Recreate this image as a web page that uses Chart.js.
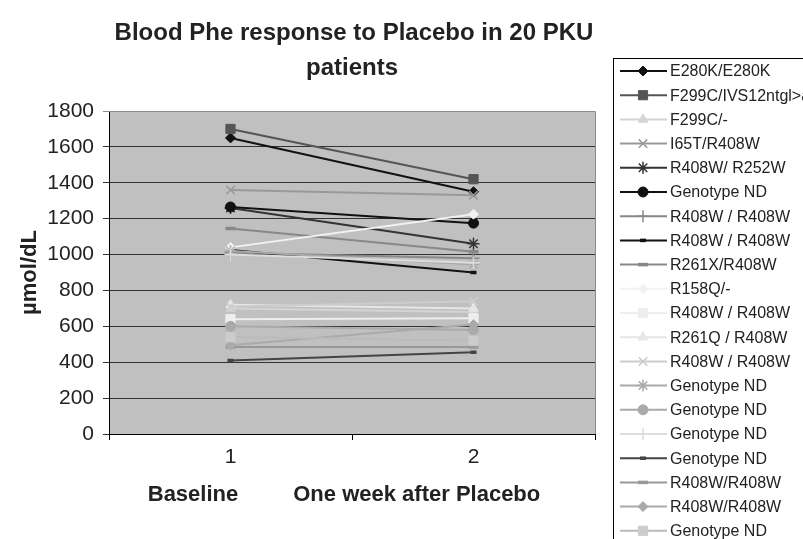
<!DOCTYPE html>
<html>
<head>
<meta charset="utf-8">
<script src="https://cdn.jsdelivr.net/npm/chart.js@4/dist/chart.umd.min.js"></script>
<style>
  html, body { margin: 0; padding: 0; background: #fff; }
  #wrap { width: 803px; height: 539px; position: relative; overflow: hidden; }
  canvas { display: block; }
</style>
</head>
<body>
<div id="wrap"><canvas id="chart" width="803" height="539"></canvas></div>
<script>
// Time points on the x axis
const timepoints = ['1', '2'];

// Patient genotypes (legend order)
const patients = [
  'E280K/E280K', 'F299C/IVS12ntgl>a', 'F299C/-', 'I65T/R408W', 'R408W/ R252W',
  'Genotype ND', 'R408W / R408W', 'R408W / R408W', 'R261X/R408W', 'R158Q/-',
  'R408W / R408W', 'R261Q / R408W', 'R408W / R408W', 'Genotype ND', 'Genotype ND',
  'Genotype ND', 'Genotype ND', 'R408W/R408W', 'R408W/R408W', 'Genotype ND'
];

// Blood Phe (µmol/dL) at baseline and one week after placebo
const baselinePhe = [1650, 1700, 700, 1360, 1260, 1265, 1010, 1025, 1145, 1040,
                     640, 720, 710, 1020, 600, 1000, 410, 485, 495, 540];
const weekPhe     = [1350, 1420, 680, 1330, 1060, 1175, 980, 900, 1015, 1225,
                     645, 700, 740, 945, 580, 955, 455, 485, 610, 520];

// Value axis ticks
const yTicks = [0, 200, 400, 600, 800, 1000, 1200, 1400, 1600, 1800];

// Line colour, marker shape, marker fill and marker size for each patient
const seriesStyle = [
  { line: '#111111', shape: 'rectRot',  fill: '#111111', r: 5 },
  { line: '#555555', shape: 'rect',     fill: '#555555', r: 6.5 },
  { line: '#d4d4d4', shape: 'triangle', fill: '#d4d4d4', r: 5.5 },
  { line: '#999999', shape: 'crossRot', fill: '#999999', r: 6 },
  { line: '#333333', shape: 'star',     fill: '#333333', r: 6 },
  { line: '#111111', shape: 'circle',   fill: '#111111', r: 5 },
  { line: '#888888', shape: 'cross',    fill: '#888888', r: 6 },
  { line: '#111111', shape: 'line',     fill: '#111111', r: 3 },
  { line: '#888888', shape: 'line',     fill: '#888888', r: 5 },
  { line: '#f2f2f2', shape: 'rectRot',  fill: '#f2f2f2', r: 5 },
  { line: '#eeeeee', shape: 'rect',     fill: '#eeeeee', r: 6.5 },
  { line: '#e6e6e6', shape: 'triangle', fill: '#e6e6e6', r: 5.5 },
  { line: '#cccccc', shape: 'crossRot', fill: '#cccccc', r: 6 },
  { line: '#aaaaaa', shape: 'star',     fill: '#aaaaaa', r: 6 },
  { line: '#aaaaaa', shape: 'circle',   fill: '#aaaaaa', r: 5 },
  { line: '#dddddd', shape: 'cross',    fill: '#dddddd', r: 6 },
  { line: '#444444', shape: 'line',     fill: '#444444', r: 3 },
  { line: '#999999', shape: 'line',     fill: '#999999', r: 5 },
  { line: '#aaaaaa', shape: 'rectRot',  fill: '#aaaaaa', r: 5 },
  { line: '#bbbbbb', shape: 'rect',     fill: '#cccccc', r: 6.5 }
];

const FONT = "'Liberation Sans', Arial, Helvetica, sans-serif";

function markerBorderWidth(shape) {
  if (shape === 'line') return 3.5;
  if (shape === 'cross' || shape === 'crossRot' || shape === 'star') return 1.5;
  return 1;
}

const datasets = patients.map((name, i) => {
  const s = seriesStyle[i];
  return {
    label: name,
    data: [baselinePhe[i], weekPhe[i]],
    borderColor: s.line,
    borderWidth: 2,
    pointStyle: s.shape,
    pointRadius: s.r,
    pointBackgroundColor: s.fill,
    pointBorderColor: s.fill,
    pointBorderWidth: markerBorderWidth(s.shape),
    tension: 0,
    fill: false,
    order: patients.length - i
  };
});

// Plot background, chart titles, plot frame and the line+marker legend
const decorations = {
  id: 'decorations',
  beforeDraw(chart) {
    const { ctx, chartArea: a } = chart;
    ctx.save();
    ctx.fillStyle = '#ffffff';
    ctx.fillRect(0, 0, chart.width, chart.height);
    ctx.fillStyle = '#c0c0c0';
    ctx.fillRect(a.left, a.top, a.right - a.left, a.bottom - a.top);
    ctx.restore();
  },
  afterDraw(chart) {
    const { ctx, chartArea: a } = chart;
    const cx = (a.left + a.right) / 2;
    ctx.save();

    // frame of the plot area
    ctx.strokeStyle = '#8c8c8c';
    ctx.lineWidth = 1;
    ctx.beginPath();
    ctx.moveTo(a.left, a.top + 0.5);
    ctx.lineTo(a.right + 0.5, a.top + 0.5);
    ctx.lineTo(a.right + 0.5, a.bottom);
    ctx.stroke();

    // chart title
    ctx.fillStyle = '#222222';
    ctx.textAlign = 'center';
    ctx.textBaseline = 'middle';
    ctx.font = 'bold 24px ' + FONT;
    ctx.fillText('Blood Phe response to Placebo in 20 PKU', cx + 2, 33);
    ctx.fillText('patients', cx, 68);

    // x axis title
    ctx.font = 'bold 22px ' + FONT;
    ctx.fillText('Baseline         One week after Placebo', cx - 8, 495);

    // y axis title
    ctx.save();
    ctx.translate(30, (a.top + a.bottom) / 2);
    ctx.rotate(-Math.PI / 2);
    ctx.fillText('\u00b5mol/dL', 0, 0);
    ctx.restore();

    // legend
    const boxX = 613.5, boxY = 58.5;
    ctx.fillStyle = '#ffffff';
    ctx.fillRect(boxX, boxY, chart.width - boxX + 10, chart.height - boxY + 10);
    ctx.strokeStyle = '#000000';
    ctx.lineWidth = 1;
    ctx.strokeRect(boxX, boxY, chart.width - boxX + 10, chart.height - boxY + 10);

    const rowY0 = 71, rowStep = 24.2;
    ctx.font = '16px ' + FONT;
    ctx.textAlign = 'left';
    chart.data.datasets.forEach((ds, i) => {
      const y = rowY0 + i * rowStep;
      ctx.strokeStyle = ds.borderColor;
      ctx.lineWidth = 2;
      ctx.beginPath();
      ctx.moveTo(620, y);
      ctx.lineTo(667, y);
      ctx.stroke();
      ctx.fillStyle = ds.pointBackgroundColor;
      ctx.strokeStyle = ds.pointBorderColor;
      ctx.lineWidth = ds.pointBorderWidth;
      Chart.helpers.drawPoint(ctx, {
        pointStyle: ds.pointStyle,
        radius: ds.pointRadius,
        rotation: 0,
        borderWidth: ds.pointBorderWidth
      }, 643, y);
      ctx.fillStyle = '#222222';
      ctx.fillText(ds.label, 670, y + 1);
    });
    ctx.restore();
  }
};

new Chart(document.getElementById('chart'), {
  type: 'line',
  data: { labels: timepoints, datasets },
  options: {
    responsive: false,
    animation: false,
    events: [],
    layout: { padding: { top: 111, right: 208, left: 0, bottom: 0 } },
    plugins: {
      legend: { display: false },
      title: { display: false },
      tooltip: { enabled: false }
    },
    scales: {
      x: {
        type: 'category',
        offset: true,
        grid: { offset: true, drawOnChartArea: false, tickLength: 6, color: '#000000' },
        border: { color: '#000000', width: 1 },
        ticks: { font: { family: FONT, size: 21 }, color: '#222222', padding: 5 },
        afterFit(scale) { scale.height = 105; }
      },
      y: {
        min: 0,
        max: 1800,
        afterBuildTicks(scale) { scale.ticks = yTicks.map(v => ({ value: v })); },
        grid: {
          color: ctx => (ctx.tick && ctx.tick.value === 1800 ? '#8c8c8c' : '#333333'),
          lineWidth: 1,
          tickLength: 6
        },
        border: { color: '#000000', width: 1 },
        ticks: {
          font: { family: FONT, size: 21 },
          color: '#222222',
          padding: 9,
          callback: value => String(value)
        },
        afterFit(scale) { scale.width = 109; }
      }
    }
  },
  plugins: [decorations]
});
</script>
</body>
</html>
